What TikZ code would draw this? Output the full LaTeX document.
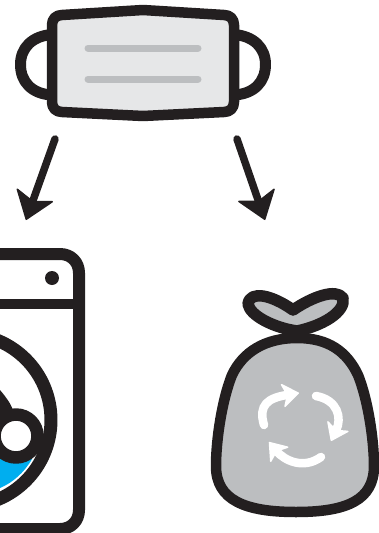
\documentclass[tikz,border=0pt]{standalone}
\usepackage{tikz}
\usetikzlibrary{arrows.meta}
\definecolor{cink}{RGB}{35,31,32}
\definecolor{cmask}{RGB}{230,231,232}
\definecolor{cbag}{RGB}{188,190,192}
\definecolor{cwater}{RGB}{0,174,239}
\tikzset{
  inkline/.style={draw=cink,line width=#1,line join=round},
  fold/.style={cbag,line width=7pt,line cap=round},
  flow/.style={cink,line width=7.5pt,line cap=round,-{Stealth[length=28pt,width=41pt,inset=7pt,round,line width=1.5pt]}},
  cycle/.style={white,line width=8.5pt,line cap=round,-{Stealth[length=18pt,width=26pt,inset=5pt,round,line width=1.5pt]}}
}
\begin{document}
\begin{tikzpicture}[x=1pt,y=-1pt]
  \useasboundingbox (0,0) rectangle (379,533);
  \clip (0,0) rectangle (379,533);
  % ---- mask
  \draw[inkline=11pt] (52,34.5) .. controls (32,36) and (20.5,48) .. (20.5,64.5)
       .. controls (20.5,82) and (32,94) .. (52,95);
  \draw[inkline=11pt] (234,34.5) .. controls (254,36) and (265.5,48) .. (265.5,64.5)
       .. controls (265.5,82) and (254,94) .. (234,95);
  \draw[inkline=10.5pt,fill=cmask] (62,15) -- (143,10) -- (224,15)
       .. controls (230,15) and (234,19) .. (234,25) -- (234,102)
       .. controls (234,108) and (230,112) .. (224,112) -- (143,116) -- (62,112)
       .. controls (56,112) and (52,108) .. (52,102) -- (52,25)
       .. controls (52,19) and (56,15) .. (62,15) -- cycle;
  \draw[fold] (88,48) -- (198,48);
  \draw[fold] (88,79) -- (198,79);
  % ---- arrows
  \coordinate (leftstart) at (55,139);
  \coordinate (lefttip) at (26,220);
  \coordinate (rightstart) at (237,139);
  \coordinate (righttip) at (265,220);
  \draw[flow] (leftstart) -- (lefttip);
  \draw[flow] (rightstart) -- (righttip);
  % ---- washer
  \draw[inkline=12pt] (-20,254) -- (60,254) .. controls (71,254) and (79,262) .. (79,273)
       -- (79,510) .. controls (79,521) and (71,529) .. (60,529) -- (-20,529);
  \draw[inkline=10pt] (-20,304) -- (79,304);
  \fill[cink] (52,278) circle (7);
  \draw[inkline=13pt] (-35,420) circle (86);
  \fill[cwater] (-5,450) -- (32,459) .. controls (24,473) and (12,483) .. (0,488) -- (-5,490) -- cycle;
  \fill[cink] (-5,385) -- (0,390) .. controls (5,396) and (10,402) .. (13,410) -- (10,450) -- (-5,462) -- cycle;
  \draw[inkline=12.5pt,fill=white] (16,436) circle (21.5);
  % ---- bag
  \draw[inkline=11.5pt,fill=cbag] (248,304) .. controls (250,290) and (272,295) .. (293,310)
       .. controls (312,297) and (336,288) .. (343,298)
       .. controls (346,312) and (322,326) .. (297,331)
       .. controls (275,328) and (250,316) .. (248,304) -- cycle;
  \draw[inkline=10.5pt,fill=cbag] (297,338) .. controls (265,338) and (243,352) .. (232,375)
       .. controls (222,400) and (216,440) .. (216,466)
       .. controls (216,500) and (245,512) .. (296,512)
       .. controls (347,512) and (374,500) .. (374,466)
       .. controls (374,440) and (368,400) .. (358,375)
       .. controls (347,352) and (329,338) .. (297,338) -- cycle;
  % ---- recycling loop
  \draw[cycle] (264,425) .. controls (258,405) and (268,398) .. (299,393);
  \draw[cycle] (316,396) .. controls (338,400) and (342,418) .. (331,441);
  \draw[cycle] (321,457) .. controls (303,470) and (284,460) .. (269,442);
\end{tikzpicture}
\end{document}
